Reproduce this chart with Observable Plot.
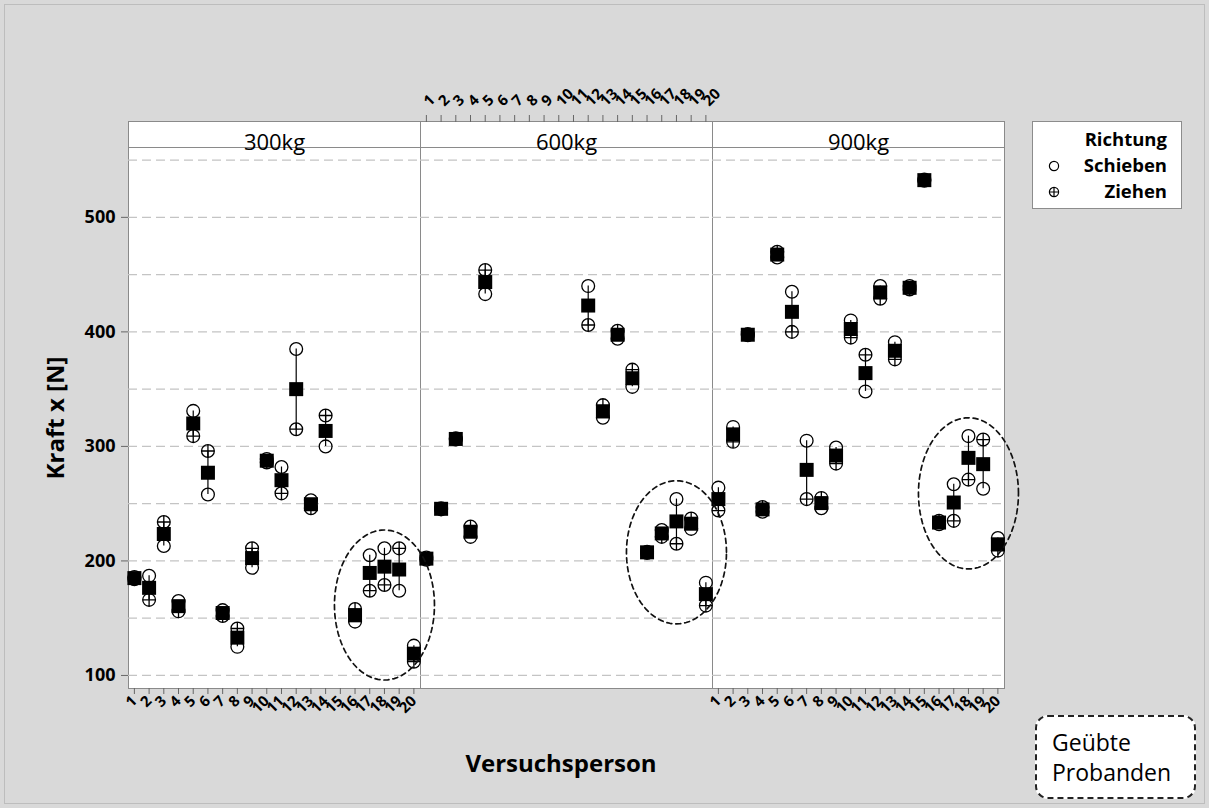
<!DOCTYPE html>
<html lang="de">
<head>
<meta charset="utf-8">
<script src="https://cdn.jsdelivr.net/npm/d3@7"></script>
<script src="https://cdn.jsdelivr.net/npm/@observablehq/plot@0.6"></script>
<style>
  html, body { margin: 0; padding: 0; background: #d9d9d9; }
  #chart { position: relative; width: 1209px; height: 808px; background: #d9d9d9;
           font-family: "Open Sans", sans-serif; color: #000; overflow: hidden; }
  #chart > svg { position: absolute; left: 0; top: 0; }
  .rand { position: absolute; left: 4px; top: 4px; right: 4px; bottom: 4px;
          border: 1px solid #bdbdbd; pointer-events: none; }
  .xtitel { position: absolute; left: 0; top: 748px; width: 1122px; text-align: center;
            font-weight: 700; font-size: 24px; line-height: 30px; }
  .legende { position: absolute; left: 1032px; top: 121px; width: 150px; height: 88px;
             box-sizing: border-box; background: #fff; border: 1px solid #8c8c8c;
             font-weight: 700; font-size: 18.5px; line-height: 22px; }
  .legende .zeile { position: absolute; left: 0; right: 14px; text-align: right; }
  .legende svg { position: absolute; left: 15px; top: 6px; }
  .geuebt { position: absolute; left: 1035px; top: 715px; width: 161px; height: 84px;
            box-sizing: border-box; border: 2px dashed #222; border-radius: 13px;
            background: #fff; font-size: 23px; line-height: 30px; padding: 10px 0 0 15px; }
</style>
</head>
<body>
<div id="chart"><div class="rand"></div></div>
<script>
// Lasten (Panels), Versuchspersonen und Richtungen
const lasten = ["300kg", "600kg", "900kg"];
const personen = [1, 2, 3, 4, 5, 6, 7, 8, 9, 10, 11, 12, 13, 14, 15, 16, 17, 18, 19, 20];
const richtungen = ["Schieben", "Ziehen"];
const geuebte = [16, 17, 18, 19, 20];
const kraftTicks = [100, 200, 300, 400, 500];
const gitter = [100, 150, 200, 250, 300, 350, 400, 450, 500, 550];

// Kraft x [N] je Versuchsperson (null = kein Messwert)
const schieben300 = [186, 187, 213, 165, 331, 258, 157, 125, 194, 289, 282, 385, 253, 300, null, 147, 205, 211, 174, 126];
const ziehen300   = [184, 166, 234, 156, 309, 296, 152, 141, 211, 286, 259, 315, 246, 327, null, 158, 174, 179, 211, 112];
const schieben600 = [203, 246, 307, 221, 433, null, null, null, null, null, null, 440, 325, 394, 352, 208, 227, 254, 228, 181];
const ziehen600   = [201, 245, 306, 230, 454, null, null, null, null, null, null, 406, 336, 401, 367, 207, 221, 215, 237, 161];
const schieben900 = [264, 317, 397, 243, 465, 435, 305, 246, 299, 410, 348, 440, 391, 440, 533, 232, 267, 309, 263, 220];
const ziehen900   = [244, 304, 398, 247, 470, 400, 254, 255, 285, 395, 380, 429, 376, 437, 532, 235, 235, 271, 306, 209];

const schieben = {"300kg": schieben300, "600kg": schieben600, "900kg": schieben900};
const ziehen = {"300kg": ziehen300, "600kg": ziehen600, "900kg": ziehen900};

// Eine Zeile pro Person und Last, mit Mittelwert beider Richtungen
const zeilen = [];
for (const last of lasten) {
  personen.forEach((person, i) => {
    const s = schieben[last][i], z = ziehen[last][i];
    if (s == null || z == null) return;
    zeilen.push({last, person, schieben: s, ziehen: z, mittel: (s + z) / 2});
  });
}

// Gestrichelte Ellipse um die geübten Probanden jedes Panels
const ellipsen = [];
for (const last of lasten) {
  const g = zeilen.filter(d => d.last === last && geuebte.includes(d.person));
  const [x0, x1] = d3.extent(g, d => d.person);
  const [y0, y1] = d3.extent(g.flatMap(d => [d.schieben, d.ziehen]));
  const cx = (x0 + x1) / 2, rx = (x1 - x0) / 2 + 1.4;
  const cy = (y0 + y1) / 2, ry = (y1 - y0) / 2 + 16;
  for (let k = 0; k <= 96; ++k) {
    const t = (k / 96) * 2 * Math.PI;
    ellipsen.push({last, person: cx + rx * Math.cos(t), kraft: cy + ry * Math.sin(t)});
  }
}

// Achsenbeschriftung abwechselnd unten (300kg, 900kg) und oben (600kg)
const achseUnten = lasten.filter((l, i) => i % 2 === 0).flatMap(last => personen.map(person => ({last, person})));
const achseOben = lasten.filter((l, i) => i % 2 === 1).flatMap(last => personen.map(person => ({last, person})));

// Kreis mit Kreuz für "Ziehen"
const kreisKreuz = {
  draw(context, size) {
    const r = Math.sqrt(size / Math.PI);
    context.moveTo(r, 0);
    context.arc(0, 0, r, 0, 2 * Math.PI);
    context.moveTo(-r, 0); context.lineTo(r, 0);
    context.moveTo(0, -r); context.lineTo(0, r);
  }
};

const W = 1209, H = 808;
const ML = 128, MR = 205, MT = 147, MB = 120, STREIFEN = 26;
const RAHMEN = "#8a8a8a";
const FONT = "'Open Sans', sans-serif";

const plot = Plot.plot({
  width: W, height: H,
  marginLeft: ML, marginRight: MR, marginTop: MT, marginBottom: MB,
  style: {background: "transparent", fontFamily: FONT, color: "#000", overflow: "visible"},
  fx: {domain: lasten, padding: 0, axis: null, label: null},
  x: {domain: [0.6, 20.45], axis: null},
  y: {domain: [88.6, 561], axis: null},
  marks: [
    Plot.frame({insetTop: -STREIFEN, fill: "white", stroke: RAHMEN}),
    Plot.frame({stroke: RAHMEN}),
    Plot.gridY(gitter, {stroke: "#c4c4c4", strokeOpacity: 1, strokeWidth: 1.3, strokeDasharray: "9,5"}),
    Plot.ruleX(zeilen, {fx: "last", x: "person", y1: "schieben", y2: "ziehen", stroke: "#000", strokeWidth: 1.2}),
    Plot.dot(zeilen, {fx: "last", x: "person", y: "schieben", r: 6.4, stroke: "#000", strokeWidth: 1.3, fill: "none"}),
    Plot.dot(zeilen, {fx: "last", x: "person", y: "ziehen", r: 6.4, symbol: kreisKreuz, stroke: "#000", strokeWidth: 1.3, fill: "none"}),
    Plot.dot(zeilen, {fx: "last", x: "person", y: "mittel", r: 7.9, symbol: "square", fill: "#000", stroke: "none"}),
    Plot.line(ellipsen, {fx: "last", x: "person", y: "kraft", z: "last", stroke: "#111", strokeWidth: 1.7, strokeDasharray: "5,4"}),
    Plot.axisY(kraftTicks, {anchor: "left", tickSize: 7, tickPadding: 6, fontSize: 18, fontWeight: "bold", label: null, stroke: "#666"}),
    Plot.axisY({ticks: [], tickSize: 0, label: "Kraft x [N]", labelArrow: "none", labelAnchor: "center", labelOffset: 82, fontSize: 24, fontWeight: "bold"}),
    Plot.axisX(achseUnten, {fx: "last", x: "person", text: d => String(d.person), anchor: "bottom", facetAnchor: null,
      tickSize: 6, tickPadding: 4, tickRotate: -45, textAnchor: "end", fontSize: 15, fontWeight: "bold", label: null, stroke: "#666"}),
    Plot.axisX(achseOben, {fx: "last", x: "person", text: d => String(d.person), anchor: "top", facetAnchor: null, dy: -STREIFEN,
      tickSize: 7, tickPadding: 11, tickRotate: -45, textAnchor: "start", fontSize: 15, fontWeight: "bold", label: null, stroke: "#666"}),
    Plot.text(lasten, {fx: d => d, text: d => d, frameAnchor: "top", dy: -STREIFEN / 2, fontSize: 22})
  ]
});

const chart = d3.select("#chart");
chart.node().appendChild(plot);

chart.append("div").attr("class", "xtitel").text("Versuchsperson");

// Legende für die Richtung
const legende = chart.append("div").attr("class", "legende");
legende.append("div").attr("class", "zeile").style("top", "6px").text("Richtung");
richtungen.forEach((r, i) => {
  const zeile = legende.append("div").attr("class", "zeile").style("top", `${32 + i * 26}px`);
  const s = zeile.append("svg").attr("width", 12).attr("height", 12);
  s.append("circle").attr("cx", 6).attr("cy", 6).attr("r", 4.6).attr("fill", "none").attr("stroke", "#000").attr("stroke-width", 1.2);
  if (r === "Ziehen") {
    s.append("path").attr("d", "M1.4,6H10.6M6,1.4V10.6").attr("stroke", "#000").attr("stroke-width", 1.2);
  }
  zeile.append("span").text(r);
});

// Hinweis auf die markierten Probanden
const hinweis = chart.append("div").attr("class", "geuebt");
hinweis.append("div").text("Geübte");
hinweis.append("div").text("Probanden");
</script>
</body>
</html>
